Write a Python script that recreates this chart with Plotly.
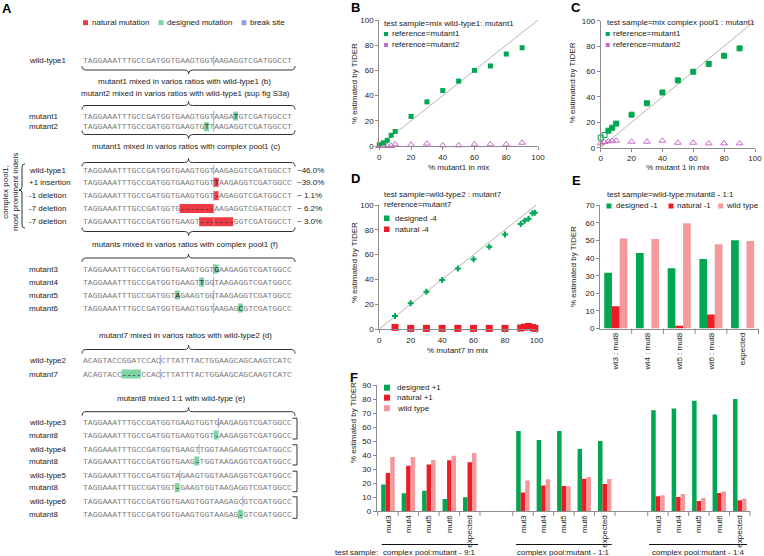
import plotly.graph_objects as go

W, H = 764, 556
def X(px): return px / W
def Y(py): return 1 - py / H

FONT = "Liberation Sans, Arial, sans-serif"
MONO = "Liberation Mono, Courier New, monospace"
GREEN = "#00a651"; RED = "#ed1c24"; PINK = "#f59a9c"; MAGENTA = "#c86ac8"
HL_GREEN = "#7dd3a5"; HL_RED = "#ee3b45"; BREAK = "#9a9ee0"
AXC = "#8c8c8c"; TXT = "#222222"; SEQC = "#7c7c7c"; DARK = "#333333"

# ---------------- data ----------------
# Panel B
b_mix = [0, 2.5, 5, 7.5, 10, 20, 30, 40, 50, 60, 70, 80, 90]
b_ref_mut1 = [1, 2.5, 4.5, 8.5, 11.5, 23.5, 35, 44, 51.5, 60, 63.5, 73, 78]
b_ref_mut2 = [0, 1, 0, 0, 1.3, 1, 1.9, 0.5, 0.5, 1.3, 1.3, 1.3, 2.6]
# Panel C
c_mix = [0, 2.5, 5, 7.5, 10, 20, 30, 40, 50, 60, 70, 80, 90]
c_ref_mut1 = [8, 10, 13.4, 15.7, 19, 26, 35, 43.5, 53, 59.8, 66, 72.4, 78.2]
c_ref_mut2 = [3.4, 4.5, 5, 5.5, 5.5, 4.7, 4.7, 5.5, 3.9, 3.9, 3.4, 3.4, 3.4]
# Panel D
d_mix = [10, 20, 30, 40, 50, 60, 70, 80, 90, 92.5, 95, 97.5, 99]
d_designed = [10.5, 20.7, 30.1, 39.5, 48.7, 56.2, 66.4, 76.3, 84.7, 87.3, 89, 93.3, 93.7]
d_natural = [1.3, 0.5, 0.5, 0.5, 0.5, 0.5, 0.5, 0.5, 0.8, 1.5, 2, 1.2, 0.5]
# Panel E
e_cats = ["wt3 : mut8", "wt4 : mut8", "wt5 : mut8", "wt6 : mut8", "expected"]
e_designed = [31.7, 42.9, 34.2, 39.5, 50.1]
e_natural = [12.7, 0, 1.5, 8, 0]
e_wild = [51.2, 50.9, 59.8, 47.8, 49.7]
# Panel F
f_groups = ["complex pool:mutant - 9:1", "complex pool:mutant - 1:1", "complex pool:mutant - 1:4"]
f_cats = ["mut3", "mut4", "mut5", "mut6", "expected"]
f_designed = [19, 12.6, 14.5, 8.6, 9.8, 57.1, 50.7, 57.1, 44.3, 50, 71.9, 73.3, 78.8, 69, 80]
f_natural = [27.1, 32.4, 33.3, 36.2, 34.8, 13.3, 18.3, 17.9, 23.1, 19.3, 10.5, 10, 7.1, 12.9, 7.6]
f_wild = [38.6, 38.6, 36.4, 39.5, 41.4, 21.7, 22.6, 17.9, 24.3, 22.9, 11.2, 12.1, 9.3, 14, 9]
# Panel A sequences
wt1 = "TAGGAAATTTGCCGATGGTGAAGTGGTAAGAGGTCGATGGCCT"
wt2 = "ACAGTACCGGATCCACCTTATTTACTGGAAGCAGCAAGTCATC"
pool_pct = ["~46.0%", "~39.0%", "~ 1.1%", "~ 6.2%", "~ 3.0%"]

# ---------------- helpers ----------------
annotations, shapes = [], []

def text(s, x, y, size=8, anchor="left", color=TXT, angle=0, family=FONT, vanchor="middle"):
    annotations.append(dict(text=s, x=X(x), y=Y(y), xref="paper", yref="paper",
                            xanchor=anchor, yanchor=vanchor, showarrow=False, textangle=angle,
                            font=dict(size=size, color=color, family=family),
                            borderpad=0, borderwidth=0))

def rect(x0, y0, x1, y1, color):
    shapes.append(dict(type="rect", xref="paper", yref="paper", x0=X(x0), x1=X(x1),
                       y0=Y(y1), y1=Y(y0), fillcolor=color, line=dict(width=0), layer="above"))

def seg(x0, y0, x1, y1, color=DARK, width=1):
    shapes.append(dict(type="line", xref="paper", yref="paper", x0=X(x0), x1=X(x1),
                       y0=Y(y0), y1=Y(y1), line=dict(color=color, width=width), layer="above"))

def P(x, y):
    return f"{X(x):.5f},{Y(y):.5f}"

def hbrace(x0, x1, y, down=True, d=4):
    s = 1 if down else -1
    cx = (x0 + x1) / 2
    path = (f"M {P(x0, y - s*d)} Q {P(x0, y)} {P(x0 + d, y)} L {P(cx - d, y)} "
            f"Q {P(cx, y)} {P(cx, y + s*d)} Q {P(cx, y)} {P(cx + d, y)} "
            f"L {P(x1 - d, y)} Q {P(x1, y)} {P(x1, y - s*d)}")
    shapes.append(dict(type="path", path=path, xref="paper", yref="paper",
                       line=dict(color=DARK, width=1), layer="above"))

def vbrace(x, y0, y1, d=3):
    cy = (y0 + y1) / 2 - 6
    path = (f"M {P(x + d, y0)} Q {P(x, y0)} {P(x, y0 + d)} L {P(x, cy - d)} "
            f"Q {P(x, cy)} {P(x - d, cy)} Q {P(x, cy)} {P(x, cy + d)} "
            f"L {P(x, y1 - d)} Q {P(x, y1)} {P(x + d, y1)}")
    shapes.append(dict(type="path", path=path, xref="paper", yref="paper",
                       line=dict(color=DARK, width=1), layer="above"))

SEQ_X = 82.5
SEQ_SIZE = 8.1
CW = 0.6 * SEQ_SIZE

def seqrow(label, y, seq, hl=(), brk=None, hlcolor=HL_GREEN):
    text(label, 29.3, y, size=8)
    for (a, b) in hl:
        rect(SEQ_X + a * CW, y - 4.5, SEQ_X + b * CW, y + 4.5, hlcolor)
    hlset = set()
    for (a, b) in hl:
        hlset.update(range(a, b))
    out = ""
    for i, ch in enumerate(seq):
        if i in hlset:
            out += f"<span style='color:#222'>{ch}</span>"
        else:
            out += ch
    text(out, SEQ_X, y, size=SEQ_SIZE, color=SEQC, family=MONO)
    if brk is not None:
        bx = SEQ_X + brk * CW
        seg(bx, y - 5, bx, y + 5, BREAK, 1)

# ---------------- Panel A ----------------
text("<b>A</b>", 1.5, 8.5, size=13, color="#000")
rect(83, 20.2, 88, 25.2, "#ee3b45"); text("natural mutation", 91.7, 22.7)
rect(158.5, 20.2, 163.5, 25.2, HL_GREEN); text("designed mutation", 166.5, 22.7)
rect(241.5, 20.2, 246.5, 25.2, BREAK); text("break site", 250, 22.7)

seqrow("wild-type1", 60.7, wt1, brk=27)
hbrace(82, 295, 70, down=True)
text("mutant1 mixed in varios ratios with wild-type1 (b)", 184, 82, anchor="center")
text("mutant2 mixed in varios ratios with wild-type1 (sup fig S3a)", 185, 93.7, anchor="center")
hbrace(82, 295, 105.5, down=False)
seqrow("mutant1", 116, wt1[:31] + "T" + wt1[32:], hl=[(31, 32)], brk=27)
seqrow("mutant2", 126.7, wt1[:25] + "T" + wt1[26:], hl=[(25, 26)], brk=27)
hbrace(82, 295, 134.5, down=True)
text("mutant1 mixed in varios ratios with complex pool1 (c)", 186, 146.7, anchor="center")
hbrace(82, 295, 162.5, down=False)

pool_rows = [
    ("wild-type1", 170, wt1, []),
    ("+1 insertion", 182.3, (wt1[:27] + "T" + wt1[27:])[:43], [(27, 28)]),
    ("-1 deletion", 195.7, wt1[:27] + "-" + wt1[28:], [(27, 28)]),
    ("-7 deletion", 208.5, wt1[:20] + "-------" + wt1[27:], [(20, 27)]),
    ("-7 deletion", 221.7, wt1[:24] + "-------" + wt1[31:], [(24, 31)]),
]
for (lab, y, s, hl), pct in zip(pool_rows, pool_pct):
    seqrow(lab, y, s, hl=hl, brk=27, hlcolor=HL_RED)
    text(pct.replace(" ", "\u00a0"), 297, y)
vbrace(22, 164, 228)
text("complex pool1,<br>most prominent indels", 10, 192, size=8, anchor="center", angle=-90)
hbrace(82, 295, 231.5, down=True)
text("mutants mixed in varios ratios with complex pool1 (f)", 185, 244.3, anchor="center")
hbrace(82, 295, 258, down=False)

m3 = (wt1[:27] + "G" + wt1[27:])[:43]
m4 = (wt1[:24] + "T" + wt1[24:])[:43]
m5 = (wt1[:19] + "A" + wt1[19:])[:43]
m6 = (wt1[:32] + "C" + wt1[32:])[:43]
seqrow("mutant3", 269, m3, hl=[(27, 28)], brk=27)
seqrow("mutant4", 282, m4, hl=[(24, 25)], brk=27)
seqrow("mutant5", 295, m5, hl=[(19, 20)], brk=27)
seqrow("mutant6", 308, m6, hl=[(32, 33)], brk=27)

text("mutant7 mixed in varios ratios with wild-type2 (d)", 185, 335, anchor="center")
hbrace(82, 295, 349.5, down=False)
seqrow("wild-type2", 360, wt2, brk=16)
seqrow("mutant7", 374, wt2[:8] + "----" + wt2[12:], hl=[(8, 12)], brk=16)

text("mutant8 mixed 1:1 with wild-type (e)", 181, 398.3, anchor="center")
hbrace(82, 295, 411.7, down=False)
pairs = [
    ("wild-type3", 422.7, m3, 28, 435, 27),
    ("wild-type4", 449.3, m4, 24, 461, 23),
    ("wild-type5", 475.7, m5, 20, 487.7, 19),
    ("wild-type6", 501.3, m6, 33, 514.3, 32),
]
for lab, y, s, brk, y2, dpos in pairs:
    seqrow(lab, y, s, brk=brk)
    seqrow("mutant8", y2, s[:dpos] + "-" + s[dpos + 1:], hl=[(dpos, dpos + 1)])
    t, b = y - 4.5, y2 + 4
    seg(292.5, t, 297, t); seg(297, t, 297, b); seg(292.5, b, 297, b)

# ---------------- traces ----------------
fig = go.Figure()

def diag(xa, ya):
    fig.add_trace(go.Scatter(x=[0, 100], y=[0, 100], mode="lines", xaxis=xa, yaxis=ya,
                             line=dict(color="#b4b4b4", width=1), showlegend=False))

# B
diag("x", "y")
fig.add_trace(go.Scatter(x=b_mix, y=b_ref_mut2, mode="markers", xaxis="x", yaxis="y",
                         marker=dict(symbol="triangle-up-open", size=6, color=MAGENTA, line=dict(width=1)),
                         cliponaxis=False, showlegend=False))
fig.add_trace(go.Scatter(x=b_mix, y=b_ref_mut1, mode="markers", xaxis="x", yaxis="y",
                         marker=dict(symbol="square", size=5, color=GREEN),
                         cliponaxis=False, showlegend=False))
# C
diag("x2", "y2")
fig.add_trace(go.Scatter(x=c_mix, y=c_ref_mut2, mode="markers", xaxis="x2", yaxis="y2",
                         marker=dict(symbol="triangle-up-open", size=6, color=MAGENTA, line=dict(width=1)),
                         cliponaxis=False, showlegend=False))
c_sym = ["square-open", "square-open"] + ["square"] * (len(c_mix) - 2)
fig.add_trace(go.Scatter(x=c_mix, y=c_ref_mut1, mode="markers", xaxis="x2", yaxis="y2",
                         marker=dict(symbol=c_sym, size=5, color=GREEN, line=dict(width=1, color=GREEN)),
                         cliponaxis=False, showlegend=False))
# D
diag("x3", "y3")
fig.add_trace(go.Scatter(x=d_mix, y=d_natural, mode="markers", xaxis="x3", yaxis="y3",
                         marker=dict(symbol="square", size=7, color=RED),
                         cliponaxis=False, showlegend=False))
fig.add_trace(go.Scatter(x=d_mix, y=d_designed, mode="markers", xaxis="x3", yaxis="y3",
                         marker=dict(symbol="cross", size=5, color=GREEN),
                         cliponaxis=False, showlegend=False))
# E
for vals, col, off in [(e_designed, GREEN, -0.365), (e_natural, RED, -0.122), (e_wild, PINK, 0.121)]:
    fig.add_trace(go.Bar(x=e_cats, y=vals, xaxis="x4", yaxis="y4", marker=dict(color=col, line=dict(width=0)),
                         width=0.243, offset=off, showlegend=False))
# F
f_x = [g * 6.6 + i for g in range(len(f_groups)) for i in range(len(f_cats))]
f_lab = [c for g in f_groups for c in f_cats]
for vals, col, off in [(f_designed, GREEN, -0.33), (f_natural, RED, -0.11), (f_wild, PINK, 0.11)]:
    fig.add_trace(go.Bar(x=f_x, y=vals, xaxis="x5", yaxis="y5", marker=dict(color=col, line=dict(width=0)),
                         width=0.22, offset=off, showlegend=False))

# ---------------- axes ----------------
def ax(dom, rng, anchor, **kw):
    d = dict(domain=dom, range=rng, anchor=anchor, showline=True, linecolor=AXC, linewidth=1,
             ticks="outside", ticklen=3, tickcolor=AXC, tickwidth=1,
             tickfont=dict(size=8, family=FONT, color=TXT), showgrid=False, zeroline=False,
             fixedrange=True, automargin=False)
    d.update(kw)
    return d

E_DOM = (600, 758.5); E_RNG = (-0.5, 4.5)
F_DOM = (376.7, 750); F_RNG = (-0.55, 17.7)

layout_axes = dict(
    xaxis=ax([X(379.3), X(538)], [0, 100], "y", dtick=20),
    yaxis=ax([Y(146), Y(20)], [0, 100], "x", dtick=20),
    xaxis2=ax([X(600.7), X(755)], [0, 100], "y2", dtick=20),
    yaxis2=ax([Y(147.7), Y(20.7)], [0, 100], "x2", dtick=20),
    xaxis3=ax([X(379.3), X(536.4)], [0, 100], "y3", dtick=20),
    yaxis3=ax([Y(329), Y(205)], [0, 100], "x3", dtick=20),
    xaxis4=ax([X(E_DOM[0]), X(E_DOM[1])], list(E_RNG), "y4", type="category", ticks="", tickangle=-90),
    yaxis4=ax([Y(328.5), Y(205.3)], [0, 70], "x4", dtick=10),
    xaxis5=ax([X(F_DOM[0]), X(F_DOM[1])], list(F_RNG), "y5", tickmode="array", tickvals=f_x,
              ticktext=f_lab, ticks="", tickangle=-90),
    yaxis5=ax([Y(511), Y(385)], [0, 90], "x5", dtick=10),
)

# short category-boundary tick marks (axis decoration), placed via the axis geometry
def axis_px(v, dom, rng):
    return dom[0] + (v - rng[0]) / (rng[1] - rng[0]) * (dom[1] - dom[0])

for k in range(len(e_cats)):
    px = axis_px(k + 0.5, E_DOM, E_RNG)
    seg(px, 328.5, px, 334, AXC, 1)
for g in range(len(f_groups)):
    for i in range(len(f_cats) + 1):
        px = axis_px(g * 6.6 + i - 0.5, F_DOM, F_RNG)
        seg(px, 511, px, 516, AXC, 1)

# ---------------- chart texts ----------------
text("<b>B</b>", 355, 7, size=13, color="#000", anchor="center")
text("<b>C</b>", 576, 7, size=13, color="#000", anchor="center")
text("<b>D</b>", 355, 178, size=13, color="#000", anchor="center")
text("<b>E</b>", 576, 180, size=13, color="#000", anchor="center")
text("<b>F</b>", 354, 377, size=13, color="#000", anchor="center")

YT = "% estimated by TIDER"
text(YT, 355, 84, anchor="center", angle=-90)
text(YT, 573.3, 83, anchor="center", angle=-90)
text(YT, 355, 263, anchor="center", angle=-90)
text(YT, 573, 267, anchor="center", angle=-90)
text(YT, 353, 423, anchor="center", angle=-90)
text("% mutant1 in mix", 458, 167, anchor="center")
text("% mutant 1 in mix", 678, 167.5, anchor="center")
text("% mutant7 in mix", 457, 350, anchor="center")

text("test sample=mix wild-type1: mutant1", 384.3, 23.3)
rect(384, 32, 388, 36, GREEN); text("reference=mutant1", 391.7, 34)
rect(384, 43, 388, 47, MAGENTA); text("reference=mutant2", 391.7, 45)

text("test sample=mix complex pool1 : mutant1", 606.7, 23)
rect(605.7, 32, 609.7, 36, GREEN); text("reference=mutant1", 613.3, 34)
rect(605.7, 43, 609.7, 47, MAGENTA); text("reference=mutant2", 613.3, 45)

text("test sample=wild-type2 : mutant7", 384.3, 194)
text("reference=mutant7", 384.3, 204.3)
rect(384, 215.5, 389.5, 221, GREEN); text("designed -4", 395, 218.3)
rect(384, 226.5, 389.5, 232, RED); text("natural -4", 395, 229.3)

text("test sample=wild-type:mutant8 - 1:1", 606.7, 194)
rect(606.5, 203.5, 611.5, 208.5, GREEN); text("designed -1", 616, 206)
rect(668.5, 203.5, 673.5, 208.5, RED); text("natural -1", 676.7, 206)
rect(718.2, 203.5, 723.2, 208.5, PINK); text("wild type", 726, 206)

rect(384, 384.7, 390, 390.7, GREEN); text("designed +1", 396.7, 387.7)
rect(384, 394.7, 390, 400.7, RED); text("natural +1", 396.7, 397.7)
rect(384, 405.3, 390, 411.3, PINK); text("wild type", 396.7, 408.3)

text("test sample:", 378, 552, anchor="right")
grp_px = [(381.7, 478), (516, 611.7), (649, 747)]
for (a, b), lab in zip(grp_px, f_groups):
    seg(a, 544.5, b, 544.5, "#111", 1)
    text(lab, (a + b) / 2, 552, anchor="center")

fig.update_layout(
    width=W, height=H, margin=dict(l=0, r=0, t=0, b=0),
    paper_bgcolor="white", plot_bgcolor="white",
    barmode="overlay", showlegend=False, hovermode=False,
    font=dict(family=FONT, size=8, color=TXT),
    annotations=annotations, shapes=shapes, **layout_axes,
)
fig.write_html("out.html", config={"displayModeBar": False},
               post_script="document.body.style.margin='0';document.body.style.padding='0';"
                           "document.body.style.overflow='hidden';")
